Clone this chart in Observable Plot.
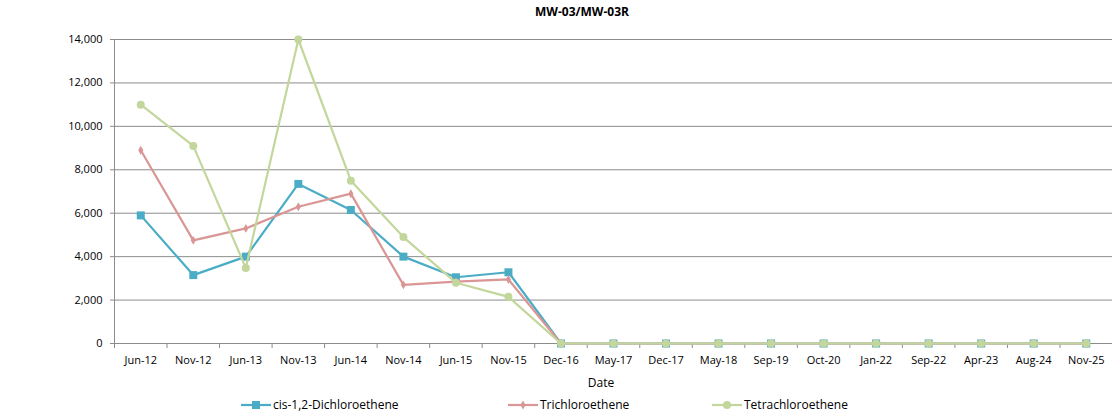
<!DOCTYPE html>
<html><head><meta charset="utf-8">
<script src="https://cdn.jsdelivr.net/npm/d3@7"></script>
<script src="https://cdn.jsdelivr.net/npm/@observablehq/plot@0.6"></script>
<style>
body{margin:0;background:#fff;font-family:"Open Sans",sans-serif;color:#000;}
#wrap{position:relative;width:1112px;height:415px;overflow:hidden;}
#title{position:absolute;top:3px;left:482px;width:200px;text-align:center;font-weight:bold;font-size:12px;}
#chart{position:absolute;top:24px;left:0;}
#xlabel{position:absolute;top:374px;left:551px;width:100px;text-align:center;font-size:12px;}
#ylabel{position:absolute;left:18px;top:190px;width:200px;text-align:center;font-size:12px;transform:translate(-50%,-50%) rotate(-90deg);}
#legend{position:absolute;top:396px;left:0;width:1112px;height:18px;font-size:12px;}
.item{position:absolute;top:0;display:flex;align-items:center;}
.item svg{margin-right:2px;}
</style>
</head><body>
<div id="wrap">
  <div id="title">MW-03/MW-03R</div>
  <div id="ylabel">VOC Concentration (ppb)</div>
  <div id="chart"></div>
  <div id="xlabel">Date</div>
  <div id="legend"></div>
</div>
<script>
const dates = ["Jun-12","Nov-12","Jun-13","Nov-13","Jun-14","Nov-14","Jun-15","Nov-15","Dec-16","May-17","Dec-17","May-18","Sep-19","Oct-20","Jan-22","Sep-22","Apr-23","Aug-24","Nov-25"];
const cisDCE = [5900,3150,4000,7350,6150,4000,3050,3280,0,0,0,0,0,0,0,0,0,0,0];
const tce = [8900,4750,5300,6300,6900,2700,2850,2950,0,0,0,0,0,0,0,0,0,0,0];
const pce = [11000,9100,3480,14000,7500,4900,2800,2150,0,0,0,0,0,0,0,0,0,0,0];
const seriesNames = ["cis-1,2-Dichloroethene","Trichloroethene","Tetrachloroethene"];
const seriesColors = ["#4BACC6","#D99694","#C3D69B"];
const seriesSymbols = ["square","diamond","circle"];
const seriesR = [4.5,2.7,4];
const yTicks = [0,2000,4000,6000,8000,10000,12000,14000];

const seriesValues = [cisDCE, tce, pce];
const W = 1112, ML = 114, MR = 0;
const step = (W - ML - MR) / dates.length;

const marks = [
  Plot.gridY(yTicks, {stroke:"#8c8c8c", strokeOpacity:1, strokeWidth:1}),
  Plot.ruleX([dates[0]], {y1:0, y2:14000, dx:-step/2, stroke:"#8c8c8c", strokeWidth:1}),
  Plot.axisY(yTicks, {tickSize:4, tickPadding:8, tickFormat:d3.format(","), stroke:"#8c8c8c", label:null, fontSize:11}),
  Plot.axisX({tickSize:5, tickFormat:()=>"", dx:-step/2, stroke:"#8c8c8c", label:null}),
  Plot.axisX({tickSize:0, tickPadding:13, label:null, fontSize:11})
];
seriesNames.forEach((name, k) => {
  const rows = dates.map((d, i) => ({date:d, value:seriesValues[k][i]}));
  marks.push(Plot.line(rows, {x:"date", y:"value", stroke:seriesColors[k], strokeWidth:2.2}));
  marks.push(Plot.dot(rows, {x:"date", y:"value", fill:seriesColors[k], stroke:"none", symbol:seriesSymbols[k], r:seriesR[k]}));
});

const chart = Plot.plot({
  width:W, height:370, marginLeft:ML, marginRight:MR, marginTop:15, marginBottom:51,
  style:{fontFamily:"Open Sans", fontSize:"11px", color:"#000", background:"#fff", overflow:"visible"},
  x:{type:"point", domain:dates, padding:0.5, align:0.5, inset:0, round:false},
  y:{domain:[0,14000], inset:0},
  marks
});
document.getElementById("chart").appendChild(chart);

// legend
const legend = document.getElementById("legend");
const lefts = [241, 508, 712];
seriesNames.forEach((name, k) => {
  const item = document.createElement("div");
  item.className = "item";
  item.style.left = lefts[k] + "px";
  const svg = d3.create("svg").attr("width", 30).attr("height", 16);
  svg.append("line").attr("x1",0).attr("x2",30).attr("y1",8).attr("y2",8).attr("stroke",seriesColors[k]).attr("stroke-width",2.2);
  const sym = {square:d3.symbolSquare, diamond:d3.symbolDiamond, circle:d3.symbolCircle}[seriesSymbols[k]];
  svg.append("path").attr("transform","translate(15,8)").attr("d", d3.symbol(sym, Math.PI*seriesR[k]*seriesR[k])()).attr("fill",seriesColors[k]);
  item.appendChild(svg.node());
  const t = document.createElement("span");
  t.textContent = name;
  item.appendChild(t);
  legend.appendChild(item);
});
</script>
</body></html>
